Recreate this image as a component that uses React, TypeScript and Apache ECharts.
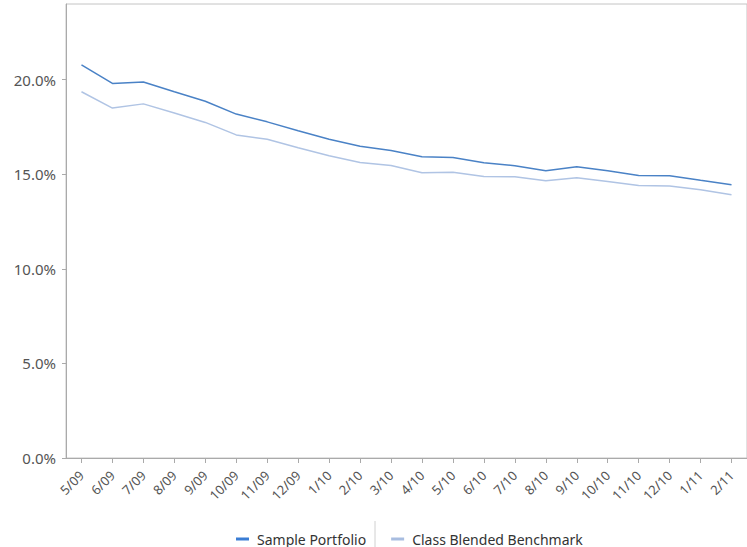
import React, { useEffect, useRef } from "react";
import * as echarts from "echarts";

const categories = ["5/09","6/09","7/09","8/09","9/09","10/09","11/09","12/09","1/10","2/10","3/10","4/10","5/10","6/10","7/10","8/10","9/10","10/10","11/10","12/10","1/11","2/11"];
const samplePortfolio = [20.78,19.8,19.88,19.36,18.86,18.18,17.77,17.3,16.85,16.48,16.26,15.93,15.88,15.61,15.45,15.19,15.4,15.19,14.93,14.92,14.68,14.45];
const classBlendedBenchmark = [19.36,18.5,18.72,18.24,17.74,17.08,16.85,16.4,15.98,15.62,15.46,15.08,15.1,14.88,14.87,14.66,14.82,14.62,14.4,14.38,14.18,13.92];
const seriesNames = ["Sample Portfolio", "Class Blended Benchmark"];

const FONT = "'Noto Sans', 'DejaVu Sans', sans-serif";

export default function App() {
  const ref = useRef<HTMLDivElement>(null);
  useEffect(() => {
    if (!ref.current) return;
    const chart = echarts.init(ref.current, null, { renderer: "svg" });
    chart.setOption({
      animation: false,
      grid: {
        left: 66,
        right: -1,
        top: 4,
        bottom: 89,
        show: true,
        borderColor: "#c4c4c4",
        borderWidth: 1,
      },
      legend: {
        left: 231,
        top: 527,
        itemWidth: 13,
        itemHeight: 3,
        itemGap: 25,
        icon: "rect",
        textStyle: { fontFamily: FONT, fontSize: 14, color: "#333", padding: [0, 0, 0, 3] },
        data: seriesNames,
      },
      graphic: [
        {
          type: "line",
          shape: { x1: 375, y1: 521, x2: 375, y2: 547 },
          style: { stroke: "#d0d0d0", lineWidth: 1 },
        },
      ],
      xAxis: {
        type: "category",
        data: categories,
        boundaryGap: true,
        axisLine: { show: true, lineStyle: { color: "#aaaaaa" } },
        axisTick: { show: true, alignWithLabel: true, length: 5, lineStyle: { color: "#aaaaaa" } },
        axisLabel: {
          rotate: 45,
          interval: 0,
          margin: 15,
          fontFamily: FONT,
          fontSize: 13,
          color: "#555",
        },
        splitLine: { show: false },
      },
      yAxis: {
        type: "value",
        min: 0,
        max: 24,
        interval: 5,
        axisLine: { show: true, lineStyle: { color: "#aaaaaa" } },
        axisTick: { show: true, length: 4, lineStyle: { color: "#aaaaaa" } },
        axisLabel: {
          showMaxLabel: false,
          margin: 10,
          fontFamily: FONT,
          fontSize: 15,
          color: "#555",
          formatter: (v: number) => v.toFixed(1) + "%",
        },
        splitLine: { show: false },
      },
      series: [
        {
          name: seriesNames[0],
          type: "line",
          data: samplePortfolio,
          showSymbol: false,
          symbol: "none",
          color: "#3a7dd4",
          lineStyle: { width: 1.5, color: "#4a82c6" },
        },
        {
          name: seriesNames[1],
          type: "line",
          data: classBlendedBenchmark,
          showSymbol: false,
          symbol: "none",
          color: "#a8bde0",
          lineStyle: { width: 1.5, color: "#b0c4e4" },
        },
      ],
    });
    return () => chart.dispose();
  }, []);
  return <div ref={ref} style={{ width: 747, height: 547, position: "absolute", left: 0, top: 0 }} />;
}
